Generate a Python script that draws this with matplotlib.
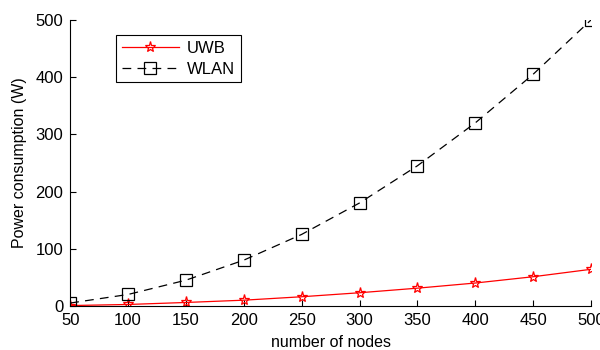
import numpy as np
import matplotlib.pyplot as plt

plt.rcParams['font.family'] = ['Liberation Sans', 'DejaVu Sans']

nodes = [50, 100, 150, 200, 250, 300, 350, 400, 450, 500]
uwb = [0.6, 2.5, 6, 10, 16, 23, 31, 40, 51, 64]
wlan = [5, 20, 45, 80, 125, 180, 245, 320, 405, 500]

fig = plt.figure(figsize=(6, 3.5), dpi=100)
ax = fig.add_axes([0.117, 0.126, 0.868, 0.817])

ax.plot(nodes, uwb, color='red', lw=0.9, marker='*', markersize=8,
        markerfacecolor='none', markeredgecolor='red', markeredgewidth=0.9, label='UWB')
ax.plot(nodes, wlan, color='black', lw=0.9, ls=(0, (7, 5)), marker='s', markersize=8.5,
        markerfacecolor='none', markeredgecolor='black', markeredgewidth=0.9, label='WLAN')

ax.set_xlim(50, 500)
ax.set_ylim(0, 500)
ax.set_xticks(nodes)
ax.set_yticks([0, 100, 200, 300, 400, 500])
ax.tick_params(direction='in', labelsize=12, length=4, width=0.8, pad=5)
ax.spines['top'].set_visible(False)
ax.spines['right'].set_visible(False)
ax.set_xlabel('number of nodes', fontsize=11.5, labelpad=5)
ax.set_ylabel('Power consumption (W)', fontsize=11.5, labelpad=6)

leg = ax.legend(loc='upper left', bbox_to_anchor=(0.072, 0.977), fontsize=12,
                fancybox=False, framealpha=1, edgecolor='black', borderpad=0.35,
                handlelength=3.4, handletextpad=0.5, labelspacing=0.35)
leg.get_frame().set_linewidth(0.8)

fig.savefig('out.png', dpi=100)
